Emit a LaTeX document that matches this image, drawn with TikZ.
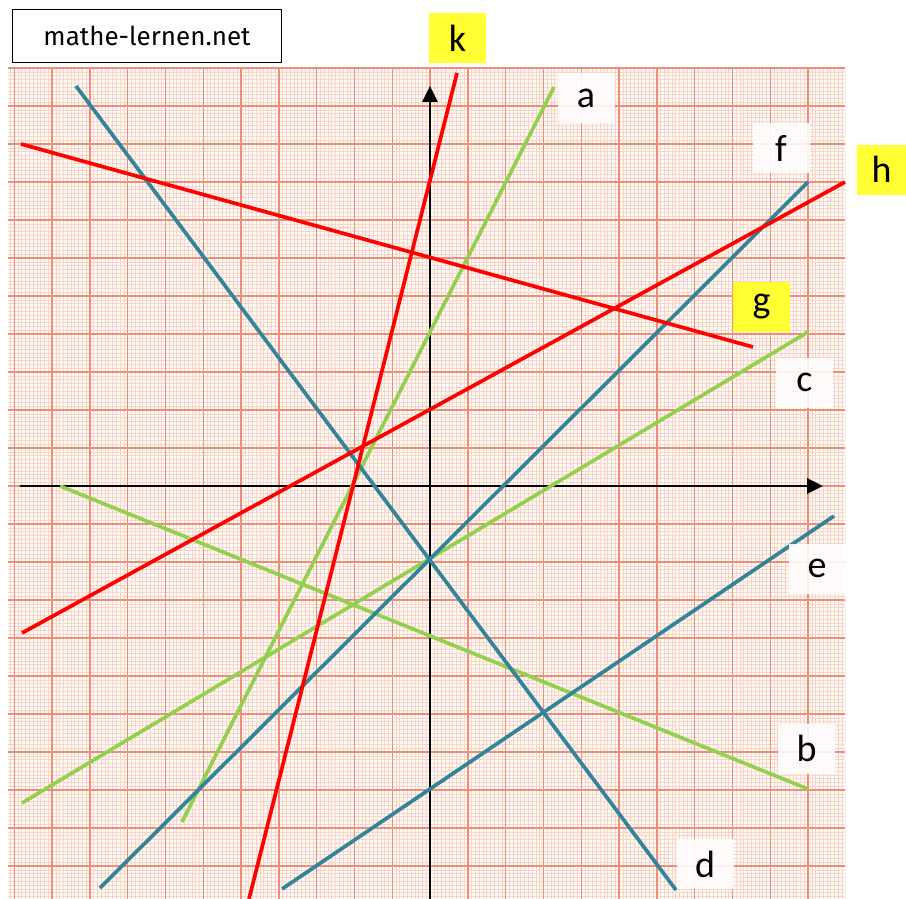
\documentclass[tikz,border=0pt]{standalone}
\usepackage{fontspec}
\setmainfont{Carlito}
\newfontfamily\logofont{Fira Sans}
\usetikzlibrary{arrows.meta}
\definecolor{lgreen}{RGB}{146,208,80}
\definecolor{tealline}{RGB}{49,133,155}
\definecolor{hlyellow}{RGB}{255,255,51}
\definecolor{paper}{RGB}{255,250,242}
\definecolor{gridfine}{RGB}{248,212,204}
\definecolor{gridthick}{RGB}{238,142,122}
\begin{document}
\begin{tikzpicture}[x=1pt,y=-1pt,
  plotline/.style={line width=3.7pt},
  axisline/.style={line width=2.8pt,-{Triangle[length=16pt,width=15pt]}},
  lbl/.style={minimum width=57pt,minimum height=50pt,inner sep=0pt,font=\fontsize{38}{42}\selectfont},
  wlbl/.style={lbl,fill=white,fill opacity=0.88,text opacity=1},
  ylbl/.style={lbl,fill=hlyellow}]
\useasboundingbox (0,0) rectangle (906,899);
% graph paper
\fill[paper] (8,68) rectangle (845,899);
\begin{scope}
  \clip (8,68) rectangle (845,899);
  \foreach \i in {-115,...,115} {
    \draw[gridfine,line width=0.55pt] ({430+\i*3.78},68) -- ({430+\i*3.78},899);
    \draw[gridfine,line width=0.55pt] (8,{486+\i*3.8}) -- (845,{486+\i*3.8});
  }
  \foreach \i in {-12,...,12} {
    \draw[gridthick,line width=1.4pt] ({430+\i*37.8},68) -- ({430+\i*37.8},899);
    \draw[gridthick,line width=1.4pt] (8,{486+\i*38}) -- (845,{486+\i*38});
  }
\end{scope}
% axes
\coordinate (xs) at (20,486);
\coordinate (xe) at (823,486);
\coordinate (ys) at (430,899);
\coordinate (ye) at (430,86);
\draw[axisline] (xs) -- (xe);
\draw[axisline] (ys) -- (ye);
% line end points
\coordinate (a1) at (182,822); \coordinate (a2) at (554,87);
\coordinate (b1) at (60,486);  \coordinate (b2) at (808,789);
\coordinate (c1) at (22,803);  \coordinate (c2) at (808,332);
\coordinate (d1) at (76,86);   \coordinate (d2) at (676,890);
\coordinate (e1) at (282,889); \coordinate (e2) at (834,516);
\coordinate (f1) at (100,888); \coordinate (f2) at (808,182);
\coordinate (g1) at (21,144);  \coordinate (g2) at (753,347);
\coordinate (h1) at (22,633);  \coordinate (h2) at (845,182);
\coordinate (k1) at (249,899); \coordinate (k2) at (457,73);
% lines
\draw[plotline,lgreen] (a1) -- (a2);
\draw[plotline,lgreen] (b1) -- (b2);
\draw[plotline,lgreen] (c1) -- (c2);
\draw[plotline,tealline] (d1) -- (d2);
\draw[plotline,tealline] (e1) -- (e2);
\draw[plotline,tealline] (f1) -- (f2);
\draw[plotline,red] (g1) -- (g2);
\draw[plotline,red] (h1) -- (h2);
\draw[plotline,red] (k1) -- (k2);
% labels
\node[draw,line width=1.3pt,minimum width=269pt,minimum height=53pt,inner sep=0pt,
      font=\logofont\fontsize{26}{30}\selectfont] (logo) at (147,36) {mathe-lernen.net};
\node[ylbl] (lk) at (457.5,38) {k};
\node[wlbl] (la) at (586,98) {a};
\node[wlbl] (lf) at (781,148) {f};
\node[ylbl,minimum width=49pt] (lh) at (881.5,169.5) {h};
\node[ylbl] (lg) at (761.5,306.5) {g};
\node[wlbl] (lc) at (804.5,382.5) {c};
\node[wlbl] (le) at (817,568.5) {e};
\node[wlbl] (lb) at (806.5,748.5) {b};
\node[wlbl] (ld) at (705,864) {d};
\end{tikzpicture}
\end{document}
